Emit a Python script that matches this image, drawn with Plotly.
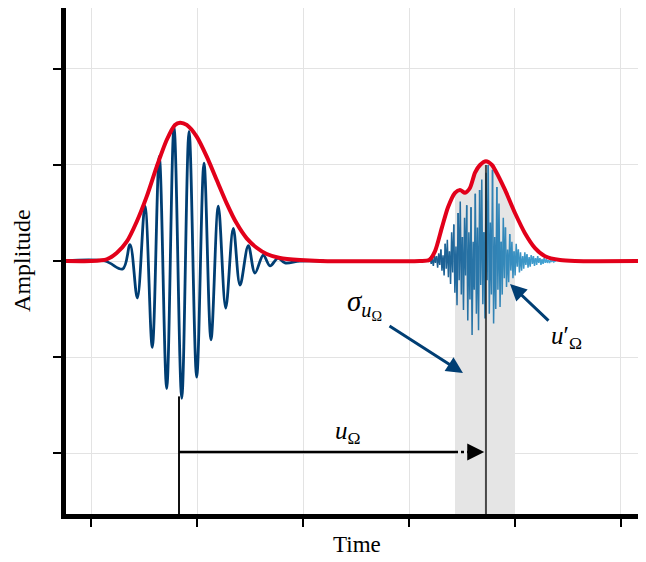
import numpy as np
import plotly.graph_objects as go

# ---------------- data ----------------
x_ticks = [0, 1, 2, 3, 4, 5]
y_ticks = [-2, -1, 0, 1, 2]
x_range = [-0.236, 5.236]
y_range = [-2.635, 2.635]

# red envelope (both packets)
env_x = [-0.27, 0.0, 0.148, 0.242, 0.337, 0.431, 0.525, 0.620, 0.714, 0.792, 0.840,
         0.903, 0.997, 1.092, 1.186, 1.280, 1.374, 1.469, 1.563, 1.658, 1.783, 1.972,
         2.160, 3.100, 3.190, 3.245, 3.311, 3.368, 3.434, 3.481, 3.528, 3.575, 3.623,
         3.670, 3.726, 3.783, 3.811, 3.906, 4.000, 4.094, 4.189, 4.283, 4.425, 4.566, 5.25]
env_y = [0.0, 0.0, 0.018, 0.083, 0.201, 0.409, 0.670, 0.983, 1.260, 1.417, 1.441,
         1.417, 1.295, 1.087, 0.844, 0.601, 0.392, 0.236, 0.138, 0.073, 0.031, 0.010,
         0.0, 0.0, 0.01, 0.10, 0.35, 0.56, 0.71, 0.74, 0.71, 0.76, 0.92,
         1.00, 1.04, 1.00, 0.95, 0.74, 0.50, 0.29, 0.135, 0.05, 0.01, 0.0, 0.0]

# first wave packet: extrema of the oscillation
wave1_x = [-0.27, 0.13, 0.299, 0.368, 0.437, 0.509, 0.578, 0.644, 0.714, 0.783, 0.856,
           0.925, 0.997, 1.066, 1.132, 1.201, 1.271, 1.342, 1.406, 1.484, 1.547, 1.625,
           1.689, 1.764, 1.830, 1.97, 2.20]
wave1_y = [0.0, 0.0, -0.083, 0.17, -0.385, 0.57, -0.90, 1.09, -1.33, 1.40, -1.43,
           1.35, -1.21, 1.02, -0.82, 0.57, -0.49, 0.34, -0.25, 0.16, -0.125, 0.06,
           -0.05, 0.03, -0.02, 0.0, 0.0]

# second (noisy) wave packet: samples from t = 3.179 to 4.387
wave2_t0, wave2_t1 = 3.179, 4.387
wave2_y = [0.02, -0.01, 0.04, -0.03, 0.02, -0.05, 0.06, -0.02, 0.05, -0.07,
           0.08, -0.04, 0.12, -0.10, 0.06, -0.15, 0.18, -0.08, 0.22, -0.17,
           0.10, -0.24, 0.30, -0.12, 0.38, -0.33, 0.15, -0.46, 0.50, -0.20,
           0.62, -0.35, 0.25, -0.51, 0.45, -0.15, 0.58, -0.62, 0.30, -0.40,
           0.56, -0.77, 0.20, -0.30, 0.70, -0.55, 0.35, -0.72, 0.74, -0.25,
           0.85, -0.45, 0.30, -0.60, 0.92, -0.20, 1.00, -0.55, 0.40, -0.35,
           0.95, -0.65, 0.25, -0.50, 0.77, -0.30, 0.60, -0.48, 0.20, -0.35,
           0.45, -0.18, 0.35, -0.27, 0.12, -0.22, 0.28, -0.10, 0.20, -0.18,
           0.10, -0.15, 0.18, -0.06, 0.12, -0.12, 0.09, -0.10, 0.05, -0.08,
           0.09, -0.04, 0.07, -0.07, 0.04, -0.06, 0.06, -0.03, 0.05, -0.05,
           0.03, -0.04, 0.05, -0.02, 0.03, -0.04, 0.02, -0.03, 0.03, -0.02,
           0.02, -0.02, 0.01, -0.02, 0.01, -0.01, 0.01, -0.01, 0.0, 0.0]

# markers / annotations
t_first = 0.83          # centre of first packet
t_second = 3.726        # centre of second packet
first_trough = -1.41
second_peak = 1.0
band = [3.434, 4.000]   # sigma band
arrow_y = -1.99

NAVY = "#003e73"
RED = "#e2001a"
FONT = "Liberation Serif"

fig = go.Figure()

# gray sigma band under the envelope
bx, by = [], []
for xv, yv in zip(env_x, env_y):
    if band[0] <= xv <= band[1]:
        bx.append(xv)
        by.append(yv)
fig.add_trace(go.Scatter(
    x=[band[0]] + bx + [band[1]], y=[y_range[0]] + by + [y_range[0]],
    fill="toself", fillcolor="#e5e5e5", line=dict(width=0), mode="lines",
    hoverinfo="skip", showlegend=False))

# vertical line of first packet
fig.add_trace(go.Scatter(x=[t_first, t_first], y=[y_range[0], first_trough], mode="lines",
                         line=dict(color="#111111", width=2), showlegend=False))

# horizontal u_Omega arrow (solid + dotted part)
fig.add_trace(go.Scatter(x=[t_first, band[0]], y=[arrow_y, arrow_y], mode="lines",
                         line=dict(color="black", width=2.5), showlegend=False))
fig.add_trace(go.Scatter(x=[band[0], 3.58], y=[arrow_y, arrow_y], mode="lines",
                         line=dict(color="black", width=2.5, dash="dot"), showlegend=False))

# first wave
fig.add_trace(go.Scatter(x=wave1_x, y=wave1_y, mode="lines",
                         line=dict(color=NAVY, width=2.8, shape="spline", smoothing=1.0),
                         showlegend=False))

# second noisy wave with colour gradient
t2 = np.linspace(wave2_t0, wave2_t1, len(wave2_y))
c0 = np.array([0x18, 0x58, 0x8c])
c1 = np.array([0x48, 0xaa, 0xda])
seg = 4
n = len(wave2_y)
for s in range(0, n - 1, seg):
    e = min(s + seg, n - 1)
    f = (s + e) / 2 / (n - 1)
    c = (c0 + (c1 - c0) * f).astype(int)
    fig.add_trace(go.Scatter(x=t2[s:e + 1], y=wave2_y[s:e + 1], mode="lines",
                             line=dict(color=f"rgb({c[0]},{c[1]},{c[2]})", width=1.5),
                             showlegend=False, hoverinfo="skip"))

# vertical line of second packet (drawn over the noisy wave, slightly transparent)
fig.add_trace(go.Scatter(x=[t_second, t_second], y=[y_range[0], second_peak], mode="lines",
                         line=dict(color="rgba(20,20,20,0.75)", width=2), showlegend=False))

# red envelope
fig.add_trace(go.Scatter(x=env_x, y=env_y, mode="lines",
                         line=dict(color=RED, width=4, shape="spline", smoothing=0.7),
                         showlegend=False))

# arrowhead of u_Omega arrow
fig.add_annotation(x=3.71, y=arrow_y, ax=3.60, ay=arrow_y, xref="x", yref="y",
                   axref="x", ayref="y", showarrow=True, arrowhead=2, arrowsize=1.7,
                   arrowwidth=2, arrowcolor="black", text="", standoff=0)
# navy arrows
fig.add_annotation(x=3.509, y=-1.167, ax=2.802, ay=-0.667, xref="x", yref="y",
                   axref="x", ayref="y", showarrow=True, arrowhead=2, arrowsize=1.1,
                   arrowwidth=3, arrowcolor=NAVY, text="", standoff=0)
fig.add_annotation(x=3.953, y=-0.240, ax=4.330, ay=-0.635, xref="x", yref="y",
                   axref="x", ayref="y", showarrow=True, arrowhead=2, arrowsize=1.1,
                   arrowwidth=3, arrowcolor=NAVY, text="", standoff=0)

# labels
lab_font = dict(family=FONT, size=25, color="black")
fig.add_annotation(x=2.425, y=-1.79, text="<i>u</i><sub>Ω</sub>", showarrow=False, font=lab_font)
fig.add_annotation(x=2.58, y=-0.45, text="<i>σ</i><sub><i>u</i><sub>Ω</sub></sub>",
                   showarrow=False, font=dict(family=FONT, size=29, color="black"))
fig.add_annotation(x=4.49, y=-0.80, text="<i>u</i>′<sub>Ω</sub>", showarrow=False, font=lab_font)

# axis titles
fig.add_annotation(x=0.502, y=-0.061, xref="paper", yref="paper", text="Time",
                   showarrow=False, font=dict(family=FONT, size=23, color="black"),
                   xanchor="center", yanchor="middle")
fig.add_annotation(x=-0.076, y=0.502, xref="paper", yref="paper", text="Amplitude",
                   showarrow=False, textangle=-90,
                   font=dict(family=FONT, size=24, color="black"),
                   xanchor="center", yanchor="middle")

fig.update_layout(
    width=638, height=554,
    margin=dict(l=58, r=0, t=0, b=48),
    plot_bgcolor="white", paper_bgcolor="white",
    font=dict(family=FONT, size=21, color="black"),
    xaxis=dict(range=x_range, tickvals=x_ticks, showticklabels=False,
               showgrid=True, gridcolor="#e3e3e3", gridwidth=1, zeroline=False,
               showline=True, linecolor="black", linewidth=5,
               ticks="outside", ticklen=8, tickwidth=2, tickcolor="black"),
    yaxis=dict(range=y_range, tickvals=y_ticks, showticklabels=False,
               showgrid=True, gridcolor="#e3e3e3", gridwidth=1, zeroline=False,
               showline=True, linecolor="black", linewidth=5,
               ticks="outside", ticklen=8, tickwidth=2, tickcolor="black"),
)

fig.write_html("out.html")
